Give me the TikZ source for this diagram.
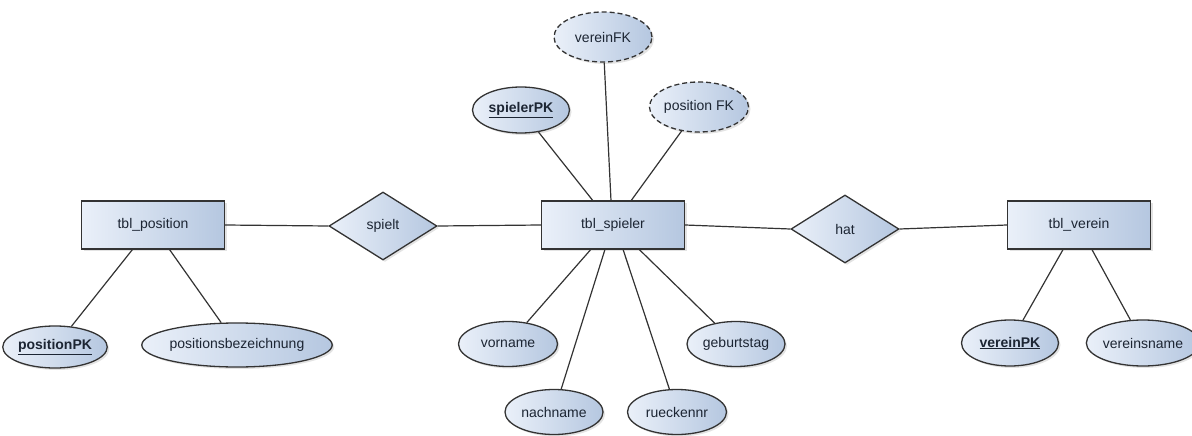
\documentclass[tikz,border=0pt]{standalone}
\usepackage{fontspec}
\setmainfont{Liberation Sans}
\usetikzlibrary{shapes.geometric,shadows,calc}
\definecolor{lite}{HTML}{EAF0F9}
\definecolor{dark}{HTML}{B5C7E0}
\definecolor{edge}{HTML}{333333}
\definecolor{txt}{HTML}{1C2533}
\begin{document}
\begin{tikzpicture}[x=1pt,y=-1pt,
  font=\fontsize{14}{16}\selectfont, text=txt,
  base/.style={draw=edge, line width=1.3pt, inner sep=0pt,
    drop shadow={opacity=0.22, shadow xshift=2pt, shadow yshift=-2pt}},
  entity/.style={base, rectangle, left color=lite, right color=dark,
    minimum width=143pt, minimum height=48pt},
  rel/.style={base, diamond, left color=lite, right color=dark,
    minimum width=108pt, minimum height=68pt},
  attr/.style={base, ellipse, left color=lite, right color=dark,
    minimum width=98pt, minimum height=46pt},
  fk/.style={attr, dash pattern=on 5pt off 3pt},
  link/.style={draw=edge, line width=1.2pt}]
\useasboundingbox (0,0) rectangle (1192,436);

% entities and relationships
\node[entity] (position) at (153,225) {tbl\_position};
\node[rel]    (spielt)   at (383,226) {spielt};
\node[entity] (spieler)  at (613,225) {tbl\_spieler};
\node[rel]    (hat)      at (845,229) {hat};
\node[entity] (verein)   at (1079,225) {tbl\_verein};

% attributes
\node[attr, minimum width=96pt, minimum height=42pt] (positionPK) at (55,347) {\underline{\textbf{positionPK}}};
\node[attr, minimum width=190pt, minimum height=44pt] (posbez) at (237,345) {positionsbezeichnung};
\node[attr, minimum width=97pt] (spielerPK) at (521,110) {\underline{\textbf{spielerPK}}};
\node[fk, minimum height=50pt] (vereinFK) at (603,37) {vereinFK};
\node[fk, minimum height=50pt] (positionFK) at (699,107) {position FK};
\node[attr, minimum width=99pt, minimum height=45pt] (vorname) at (508,344) {vorname};
\node[attr, minimum height=45pt] (nachname) at (554,412) {nachname};
\node[attr, minimum width=99pt, minimum height=45pt] (rueckennr) at (677,412) {rueckennr};
\node[attr, minimum height=45pt] (geburtstag) at (736,344) {geburtstag};
\node[attr, minimum width=97pt] (vereinPK) at (1010,343) {\underline{\textbf{vereinPK}}};
\node[attr, minimum width=95pt] (vereinsname) at (1143,343) {vereinsname};

% attachment points on entity borders
\coordinate (p1) at ($(position.south west)!0.357!(position.south east)$);
\coordinate (p2) at ($(position.south west)!0.615!(position.south east)$);
\coordinate (t1) at ($(spieler.north west)!0.359!(spieler.north east)$);
\coordinate (t2) at ($(spieler.north west)!0.486!(spieler.north east)$);
\coordinate (t3) at ($(spieler.north west)!0.627!(spieler.north east)$);
\coordinate (b1) at ($(spieler.south west)!0.345!(spieler.south east)$);
\coordinate (b2) at ($(spieler.south west)!0.444!(spieler.south east)$);
\coordinate (b3) at ($(spieler.south west)!0.570!(spieler.south east)$);
\coordinate (b4) at ($(spieler.south west)!0.683!(spieler.south east)$);
\coordinate (v1) at ($(verein.south west)!0.389!(verein.south east)$);
\coordinate (v2) at ($(verein.south west)!0.590!(verein.south east)$);

% connectors
\draw[link] (position.east) -- (spielt.west);
\draw[link] (spielt.east) -- (spieler.west);
\draw[link] (spieler.east) -- (hat.west);
\draw[link] (hat.east) -- (verein.west);

\draw[link] (positionPK) -- (p1);
\draw[link] (posbez) -- (p2);
\draw[link] (spielerPK) -- (t1);
\draw[link] (vereinFK) -- (t2);
\draw[link] (positionFK) -- (t3);
\draw[link] (vorname) -- (b1);
\draw[link] (nachname) -- (b2);
\draw[link] (rueckennr) -- (b3);
\draw[link] (geburtstag) -- (b4);
\draw[link] (vereinPK) -- (v1);
\draw[link] (vereinsname) -- (v2);
\end{tikzpicture}
\end{document}
